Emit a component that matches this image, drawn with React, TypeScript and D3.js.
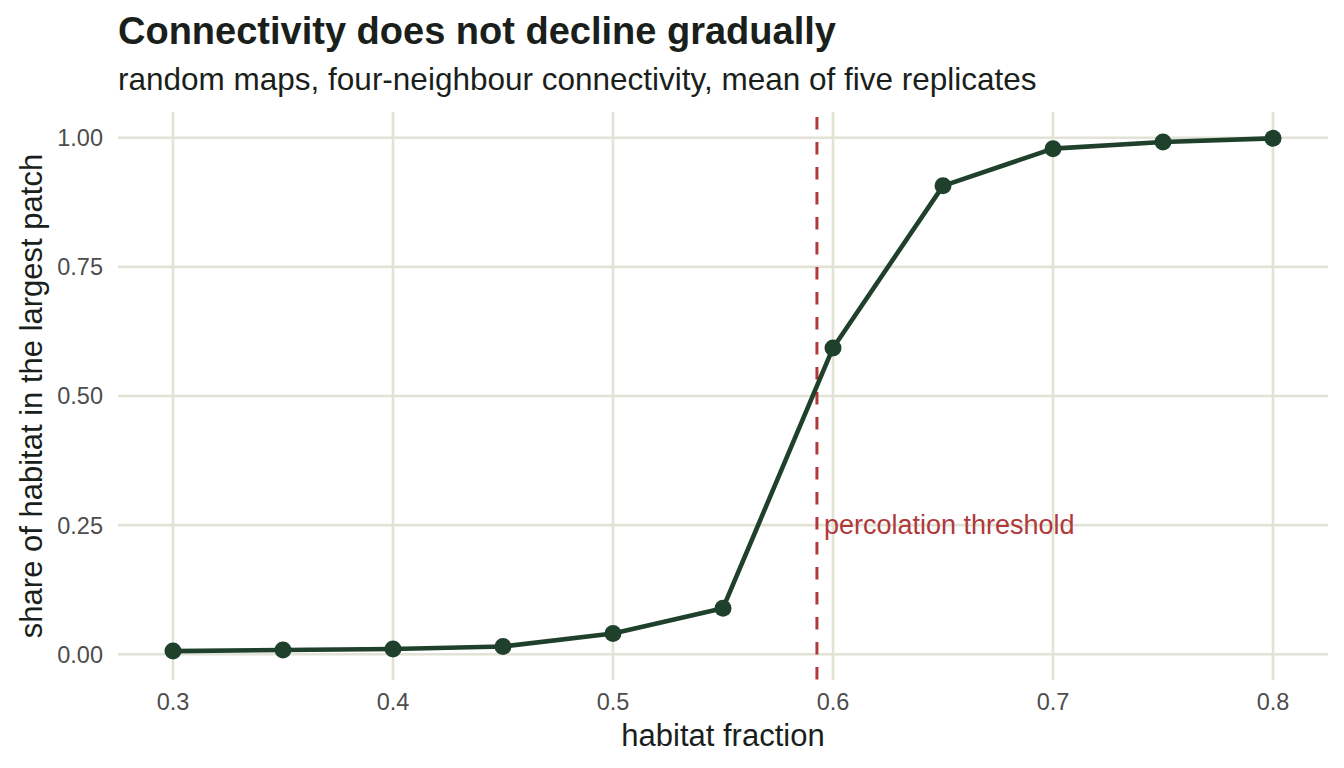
import React from "react";
import * as d3 from "d3";

// Habitat fraction (x) and mean share of habitat in the largest patch (y)
const habitatFraction = [0.3, 0.35, 0.4, 0.45, 0.5, 0.55, 0.6, 0.65, 0.7, 0.75, 0.8];
const largestShare = [0.006, 0.008, 0.01, 0.015, 0.04, 0.089, 0.593, 0.907, 0.979, 0.992, 0.999];
const xTicks = [0.3, 0.4, 0.5, 0.6, 0.7, 0.8];
const yTicks = [0, 0.25, 0.5, 0.75, 1];
const threshold = 0.5927;

const W = 1344;
const H = 768;
const panel = { left: 118, right: 1328, top: 112, bottom: 680 };
const font = "'Liberation Sans', Arial, Helvetica, sans-serif";

export default function App() {
  const x = d3.scaleLinear().domain([0.275, 0.825]).range([panel.left, panel.right]);
  const y = d3.scaleLinear().domain([-0.05, 1.05]).range([panel.bottom, panel.top]);
  const pts = habitatFraction.map((f, i) => [f, largestShare[i]] as [number, number]);
  const line = d3.line<[number, number]>().x((d) => x(d[0])).y((d) => y(d[1]));
  const grid = "#e2e2d6";
  const red = "#b0393c";
  const green = "#1f412b";

  return (
    <svg width={W} height={H} style={{ display: "block", position: "absolute", left: 0, top: 0 }} fontFamily={font}>
      <rect width={W} height={H} fill="#ffffff" />
      <text x={118} y={44} fontSize={38} fontWeight="bold" fill="#1a1f1c">
        Connectivity does not decline gradually
      </text>
      <text x={118} y={90} fontSize={31.5} fill="#1a1f1c">
        random maps, four-neighbour connectivity, mean of five replicates
      </text>
      {yTicks.map((t) => (
        <line key={"gy" + t} x1={panel.left} x2={panel.right} y1={y(t)} y2={y(t)} stroke={grid} strokeWidth={2.6} />
      ))}
      {xTicks.map((t) => (
        <line key={"gx" + t} x1={x(t)} x2={x(t)} y1={panel.top} y2={panel.bottom} stroke={grid} strokeWidth={2.6} />
      ))}
      {yTicks.map((t) => (
        <text key={"ly" + t} x={103} y={y(t)} dy="0.36em" textAnchor="end" fontSize={23.5} fill="#4d4d4d">
          {d3.format(".2f")(t)}
        </text>
      ))}
      {xTicks.map((t) => (
        <text key={"lx" + t} x={x(t)} y={710} textAnchor="middle" fontSize={23.5} fill="#4d4d4d">
          {d3.format(".1f")(t)}
        </text>
      ))}
      <line
        x1={x(threshold)}
        x2={x(threshold)}
        y1={panel.top}
        y2={panel.bottom}
        stroke={red}
        strokeWidth={3}
        strokeDasharray="12.5,12.5"
        strokeDashoffset={20}
      />
      <text x={x(threshold) + 7} y={534} fontSize={27} fill={red}>
        percolation threshold
      </text>
      <path d={line(pts) ?? ""} fill="none" stroke={green} strokeWidth={4.6} strokeLinejoin="round" />
      {pts.map((p, i) => (
        <circle key={i} cx={x(p[0])} cy={y(p[1])} r={8.5} fill={green} />
      ))}
      <text x={(panel.left + panel.right) / 2} y={746} textAnchor="middle" fontSize={31} fill="#1a1f1c">
        habitat fraction
      </text>
      <text transform={`translate(42,${(panel.top + panel.bottom) / 2}) rotate(-90)`} textAnchor="middle" fontSize={31} fill="#1a1f1c">
        share of habitat in the largest patch
      </text>
    </svg>
  );
}
